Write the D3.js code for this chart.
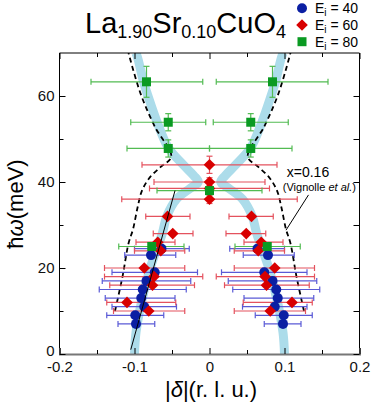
<!DOCTYPE html>
<html>
<head>
<meta charset="utf-8">
<script src="https://cdn.jsdelivr.net/npm/d3@7"></script>
<style>
body { margin: 0; background: #fff; }
svg { font-family: "Liberation Sans", Arial, sans-serif; }
</style>
</head>
<body>
<svg></svg>
<script>
// values, |delta| side only; points are mirrored to -delta
var delta40 = [0.064, 0.078, 0.073, 0.084, 0.089, 0.091, 0.087, 0.099, 0.098];
var energy40 = [24.5, 23, 19, 17, 15, 13, 11, 9, 7];
var lo40 = [0.027, 0.045, 0.016, 0.025, 0.031, 0.046, 0.044, 0.061, 0.073];
var hi40 = [0.100, 0.113, 0.130, 0.143, 0.147, 0.139, 0.130, 0.137, 0.122];
var eErr40 = [0, 0, 0, 0, 0, 0, 0, 0, 0];

var delta60 = [0, 0, 0, 0, 0.056, 0.049, 0.069, 0.065, 0.087, 0.074, 0.076, 0.110, 0.081];
var energy60 = [44, 40, 38.5, 36, 32, 28, 26, 24, 20, 18, 16, 12, 10];
var lo60 = [-0.09, -0.074, -0.08, -0.117, 0.026, 0.022, 0.046, 0.033, 0.033, 0.009, 0.020, 0.045, 0.033];
var hi60 = [0.09, 0.074, 0.08, 0.117, 0.085, 0.075, 0.098, 0.100, 0.140, 0.140, 0.133, 0.137, 0.128];
var eErr60 = [2, 1, 0, 1, 0, 0, 0, 0, 0, 0, 0, 0, 0];

var delta80 = [0.077, 0, 0.055, 0.055, 0.084];
var energy80 = [25, 38, 47.8, 53.9, 63.3];
var lo80 = [0.034, -0.07, 0.0, 0.005, 0.009];
var hi80 = [0.121, 0.07, 0.110, 0.105, 0.158];
var eErr80 = [0, 1, 2, 2, 3.6];

// hourglass band (light blue)
var bandE = [0, 5, 12.6, 20, 28, 32, 36, 38.5, 40, 41.5, 44, 48, 54, 60, 63.3, 68.4, 70];
var bandDelta = [0.100, 0.098, 0.090, 0.079, 0.063, 0.057, 0.044, 0.026, 0.015, 0.021, 0.035, 0.055, 0.070, 0.082, 0.088, 0.095, 0.098];

// x = 0.16 dispersion (Vignolle et al.), dashed
var vigE = [10, 18, 25.7, 29, 34, 38, 41.2, 43.5, 45.9, 52.9, 60.6, 70];
var vigDelta = [0.126, 0.116, 0.108, 0.102, 0.096, 0.090, 0.079, 0.065, 0.051, 0.073, 0.092, 0.108];

// thin solid guide on the left branch
var guideE = [1, 38];
var guideDelta = [-0.105, -0.046];

var xMajor = [-0.2, -0.1, 0, 0.1, 0.2];
var xMinor = [-0.15, -0.05, 0.05, 0.15];
var yMajor = [0, 20, 40, 60];
var yMinor = [10, 30, 50];

var width = 371;
var height = 409;
var margin = { top: 53, bottom: 55, left: 59.5, right: 11.5 };

var svg = d3.select('svg')
	.attr('width', width)
	.attr('height', height);

var x = d3.scaleLinear()
	.domain([-0.2, 0.2])
	.range([margin.left, width - margin.right]);

var y = d3.scaleLinear()
	.domain([0, 70])
	.range([height - margin.bottom, margin.top]);

function mirror(ds, es, los, his, errs) {
	var out = [];
	ds.forEach(function(d, i) {
		out.push({ d: d, e: es[i], lo: los[i], hi: his[i], err: errs[i] });
		if (d !== 0) out.push({ d: -d, e: es[i], lo: -his[i], hi: -los[i], err: errs[i] });
	});
	return out;
}

var pts40 = mirror(delta40, energy40, lo40, hi40, eErr40);
var pts60 = mirror(delta60, energy60, lo60, hi60, eErr60);
var pts80 = mirror(delta80, energy80, lo80, hi80, eErr80);

var plot = svg.append('g');

// clip for curves
svg.append('clipPath').attr('id', 'clip')
	.append('rect')
	.attr('x', x(-0.2)).attr('y', y(70))
	.attr('width', x(0.2) - x(-0.2)).attr('height', y(0) - y(70));

var curves = plot.append('g').attr('clip-path', 'url(#clip)');

var line = d3.line()
	.x(function(p) { return x(p[0]); })
	.y(function(p) { return y(p[1]); })
	.curve(d3.curveCatmullRom.alpha(0.5));

[1, -1].forEach(function(s) {
	curves.append('path')
		.attr('d', line(bandE.map(function(e, i) { return [s * bandDelta[i], e]; })))
		.attr('fill', 'none')
		.attr('stroke', '#acdcea')
		.attr('stroke-width', 9);
});

[1, -1].forEach(function(s) {
	curves.append('path')
		.attr('d', line(vigE.map(function(e, i) { return [s * vigDelta[i], e]; })))
		.attr('fill', 'none')
		.attr('stroke', '#000')
		.attr('stroke-width', 1.8)
		.attr('stroke-dasharray', '5,3.5');
});

// error bars
function errorBars(pts, color) {
	var g = plot.append('g')
		.attr('stroke', color)
		.attr('stroke-width', 1.2)
		.attr('fill', 'none');
	pts.forEach(function(p) {
		var cy = y(p.e);
		g.append('line')
			.attr('x1', x(p.lo)).attr('x2', x(p.hi))
			.attr('y1', cy).attr('y2', cy);
		[p.lo, p.hi].forEach(function(v) {
			g.append('line')
				.attr('x1', x(v)).attr('x2', x(v))
				.attr('y1', cy - 3).attr('y2', cy + 3);
		});
		if (p.err > 0) {
			var cx = x(p.d);
			g.append('line')
				.attr('x1', cx).attr('x2', cx)
				.attr('y1', y(p.e - p.err)).attr('y2', y(p.e + p.err));
			[p.e - p.err, p.e + p.err].forEach(function(v) {
				g.append('line')
					.attr('x1', cx - 3).attr('x2', cx + 3)
					.attr('y1', y(v)).attr('y2', y(v));
			});
		}
	});
}

errorBars(pts40, '#5a5ad6');
errorBars(pts60, '#e4525e');
errorBars(pts80, '#52bb52');

var diamond = 'M0,-5.8L5.8,0L0,5.8L-5.8,0Z';

plot.append('g').selectAll('circle')
	.data(pts40)
	.join('circle')
	.attr('cx', function(p) { return x(p.d); })
	.attr('cy', function(p) { return y(p.e); })
	.attr('r', 5)
	.attr('fill', '#0b1fa3');

plot.append('g').selectAll('path')
	.data(pts60)
	.join('path')
	.attr('transform', function(p) { return 'translate(' + x(p.d) + ',' + y(p.e) + ')'; })
	.attr('d', diamond)
	.attr('fill', '#d80000');

plot.append('g').selectAll('rect')
	.data(pts80)
	.join('rect')
	.attr('x', function(p) { return x(p.d) - 4.5; })
	.attr('y', function(p) { return y(p.e) - 4.5; })
	.attr('width', 9)
	.attr('height', 9)
	.attr('fill', '#0a9a22');

plot.append('path')
	.attr('d', d3.line()(guideE.map(function(e, i) { return [x(guideDelta[i]), y(e)]; })))
	.attr('stroke', '#000')
	.attr('stroke-width', 1)
	.attr('fill', 'none');

// annotation
plot.append('line')
	.attr('x1', x(0.132)).attr('y1', y(37))
	.attr('x2', x(0.102)).attr('y2', y(28.8))
	.attr('stroke', '#000')
	.attr('stroke-width', 1);

svg.append('text')
	.attr('x', x(0.1313)).attr('y', y(41.2))
	.attr('text-anchor', 'middle')
	.attr('font-size', 14)
	.text('x=0.16');

var vig = svg.append('text')
	.attr('x', x(0.1465)).attr('y', y(37.8))
	.attr('text-anchor', 'middle')
	.attr('font-size', 11);
vig.append('tspan').text('(Vignolle ');
vig.append('tspan').attr('font-style', 'italic').text('et al.');
vig.append('tspan').text(')');

// frame
var frame = svg.append('g').attr('stroke', '#000').attr('stroke-width', 1);
frame.append('line').attr('x1', x(-0.2)).attr('x2', x(-0.2)).attr('y1', y(70)).attr('y2', y(0));
frame.append('line').attr('x1', x(0.2)).attr('x2', x(0.2)).attr('y1', y(70)).attr('y2', y(0));
frame.append('line').attr('x1', x(-0.2)).attr('x2', x(0.2)).attr('y1', y(70)).attr('y2', y(70));

function fmt(d) { return String(d); }

// bottom axis
var xAxis = svg.append('g')
	.attr('transform', 'translate(0,' + y(0) + ')')
	.call(d3.axisBottom(x).tickValues(xMajor).tickSize(-6).tickPadding(7).tickFormat(fmt));
svg.append('g')
	.attr('transform', 'translate(0,' + y(0) + ')')
	.call(d3.axisBottom(x).tickValues(xMinor).tickSize(-4).tickFormat(''))
	.select('.domain').remove();
xAxis.select('.domain').attr('stroke', '#777').attr('stroke-width', 2);

// top ticks
svg.append('g')
	.attr('transform', 'translate(0,' + y(70) + ')')
	.call(d3.axisTop(x).tickValues(xMajor).tickSize(-6).tickFormat(''))
	.select('.domain').remove();
svg.append('g')
	.attr('transform', 'translate(0,' + y(70) + ')')
	.call(d3.axisTop(x).tickValues(xMinor).tickSize(-4).tickFormat(''))
	.select('.domain').remove();

// left axis
var yAxis = svg.append('g')
	.attr('transform', 'translate(' + x(-0.2) + ',0)')
	.call(d3.axisLeft(y).tickValues(yMajor).tickSize(-6).tickPadding(5).tickFormat(fmt));
yAxis.select('.domain').remove();
// the "0" label sits a little above the corner, clear of "-0.2"
yAxis.selectAll('.tick text').filter(function(d) { return d === 0; }).attr('y', -3.5);
svg.append('g')
	.attr('transform', 'translate(' + x(-0.2) + ',0)')
	.call(d3.axisLeft(y).tickValues(yMinor).tickSize(-4).tickFormat(''))
	.select('.domain').remove();

// right ticks
svg.append('g')
	.attr('transform', 'translate(' + x(0.2) + ',0)')
	.call(d3.axisRight(y).tickValues(yMajor.concat(yMinor)).tickSize(-6).tickFormat(''))
	.select('.domain').remove();

svg.selectAll('.tick text')
	.attr('font-size', 15)
	.attr('font-family', '"Liberation Sans", Arial, sans-serif')
	.attr('fill', '#111');

// axis titles
var xl = svg.append('text')
	.attr('x', 211).attr('y', 397)
	.attr('text-anchor', 'middle')
	.attr('font-size', 22);
xl.append('tspan').text('|');
xl.append('tspan').attr('font-style', 'italic').text('δ');
xl.append('tspan').text('|(r. l. u.)');

var yl = svg.append('text')
	.attr('transform', 'translate(23,204) rotate(-90)')
	.attr('text-anchor', 'middle')
	.attr('font-size', 22);
yl.append('tspan').text('ħ');
yl.append('tspan').attr('font-style', 'italic').text('ω');
yl.append('tspan').text('(meV)');

// title
var title = svg.append('text')
	.attr('x', 85).attr('y', 33)
	.attr('font-size', 29);
title.append('tspan').text('La');
title.append('tspan').attr('font-size', 18).attr('dy', 4.5).text('1.90');
title.append('tspan').attr('dy', -4.5).text('Sr');
title.append('tspan').attr('font-size', 18).attr('dy', 4.5).text('0.10');
title.append('tspan').attr('dy', -4.5).text('CuO');
title.append('tspan').attr('font-size', 18).attr('dy', 4.5).text('4');

// legend
var legendLabels = ['40', '60', '80'];
var legendY = [8.3, 25, 41.7];
var legend = svg.append('g');
legend.append('circle').attr('cx', 302).attr('cy', legendY[0]).attr('r', 5).attr('fill', '#0b1fa3');
legend.append('path').attr('transform', 'translate(302,' + legendY[1] + ')').attr('d', diamond).attr('fill', '#d80000');
legend.append('rect').attr('x', 297.5).attr('y', legendY[2] - 4.5).attr('width', 9).attr('height', 9).attr('fill', '#0a9a22');
legendLabels.forEach(function(l, i) {
	var t = legend.append('text')
		.attr('x', 315).attr('y', legendY[i] + 5)
		.attr('font-size', 14);
	t.append('tspan').text('E');
	t.append('tspan').attr('font-size', 10).attr('dy', 3).text('i');
	t.append('tspan').attr('dy', -3).text(' = ' + l);
});
</script>
</body>
</html>
